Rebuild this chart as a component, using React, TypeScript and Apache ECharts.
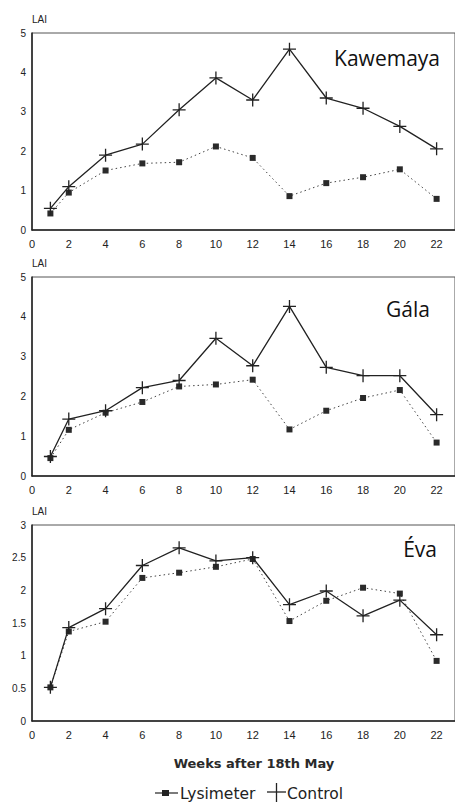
import React, { useEffect, useRef } from "react";
import * as echarts from "echarts";

const weeks = [1, 2, 4, 6, 8, 10, 12, 14, 16, 18, 20, 22];
const xTickLabels = [0, 2, 4, 6, 8, 10, 12, 14, 16, 18, 20, 22];

const panelNames = ["Kawemaya", "Gála", "Éva"];

const kawemayaControl = [0.55, 1.1, 1.9, 2.18, 3.05, 3.86, 3.3, 4.59, 3.35, 3.09, 2.63, 2.06];
const kawemayaLysimeter = [0.42, 0.95, 1.51, 1.69, 1.72, 2.12, 1.83, 0.86, 1.19, 1.34, 1.54, 0.79];

const galaControl = [0.49, 1.43, 1.64, 2.22, 2.4, 3.46, 2.77, 4.26, 2.73, 2.52, 2.52, 1.54];
const galaLysimeter = [0.45, 1.16, 1.59, 1.86, 2.25, 2.3, 2.42, 1.17, 1.64, 1.96, 2.16, 0.84];

const evaControl = [0.515, 1.43, 1.72, 2.38, 2.65, 2.45, 2.5, 1.78, 1.99, 1.61, 1.85, 1.32];
const evaLysimeter = [0.515, 1.37, 1.52, 2.19, 2.27, 2.36, 2.48, 1.53, 1.84, 2.04, 1.95, 0.92];

const yMaxes = [5, 5, 3];
const yIntervals = [1, 1, 0.5];

const controlSets = [kawemayaControl, galaControl, evaControl];
const lysimeterSets = [kawemayaLysimeter, galaLysimeter, evaLysimeter];

const INK = "#222";
const FONT = "Liberation Sans, Arial, sans-serif";
const PLUS = "path://M5,0L5,10M0,5L10,5";

export default function App() {
  const ref = useRef<HTMLDivElement>(null);

  useEffect(() => {
    document.body.style.margin = "0";
    if (!ref.current) return;
    const chart = echarts.init(ref.current, null, { renderer: "svg" });

    const gridTops = [33, 277, 525];
    const gridHeights = [197, 199, 196];

    const grids = gridTops.map((t, i) => ({
      left: 32,
      top: t,
      width: 427,
      height: gridHeights[i],
      show: true,
      borderColor: "#555",
      borderWidth: 1,
      containLabel: false,
    }));

    const xAxes = gridTops.map((_, i) => ({
      type: "value",
      gridIndex: i,
      min: 0,
      max: 23,
      interval: 1,
      splitLine: { show: false },
      axisTick: { show: false },
      axisLine: { show: true, lineStyle: { color: INK, width: 1.5 } },
      axisLabel: {
        customValues: xTickLabels,
        color: INK,
        fontSize: 11,
        fontFamily: FONT,
        margin: 8,
      },
    }));

    const yAxes = gridTops.map((_, i) => ({
      type: "value",
      gridIndex: i,
      min: 0,
      max: yMaxes[i],
      interval: yIntervals[i],
      splitLine: { show: false },
      axisTick: { show: false },
      axisLine: { show: true, lineStyle: { color: INK, width: 1.5 } },
      axisLabel: {
        color: INK,
        fontSize: 10,
        fontFamily: FONT,
        margin: 6,
      },
    }));

    const series: any[] = [];
    gridTops.forEach((_, i) => {
      series.push({
        name: "Lysimeter",
        type: "line",
        xAxisIndex: i,
        yAxisIndex: i,
        data: weeks.map((w, k) => [w, lysimeterSets[i][k]]),
        symbol: "rect",
        symbolSize: 6,
        itemStyle: { color: "#2a2a2a" },
        lineStyle: { color: "#444", width: 1, type: [1.5, 3] },
        z: 2,
      });
      series.push({
        name: "Control",
        type: "line",
        xAxisIndex: i,
        yAxisIndex: i,
        data: weeks.map((w, k) => [w, controlSets[i][k]]),
        symbol: PLUS,
        symbolSize: 13,
        itemStyle: { color: "none", borderColor: INK, borderWidth: 1.3 },
        lineStyle: { color: INK, width: 1.3 },
        z: 3,
      });
    });

    const baselines = [68, 319, 559];
    const rights = [440, 430, 437];
    const graphics: any[] = [];
    gridTops.forEach((t, i) => {
      graphics.push({
        type: "text",
        left: 32,
        top: t - 19,
        style: { text: "LAI", fill: INK, font: `10px ${FONT}` },
      });
      graphics.push({
        type: "text",
        x: rights[i],
        y: baselines[i],
        style: {
          text: panelNames[i],
          fill: "#111",
          font: `21px "Open Sans", "Noto Sans", sans-serif`,
          align: "right",
          verticalAlign: "bottom",
        },
      });
    });
    graphics.push({
      type: "text",
      x: 254,
      y: 763,
      style: {
        text: "Weeks after 18th May",
        fill: "#2a2a2a",
        font: `bold 13px "DejaVu Sans", sans-serif`,
        align: "center",
        verticalAlign: "middle",
      },
    });
    // legend
    graphics.push({ type: "line", shape: { x1: 155, y1: 793, x2: 178, y2: 793 }, style: { stroke: INK, lineWidth: 1.2 } });
    graphics.push({ type: "rect", shape: { x: 162, y: 790, width: 7, height: 6 }, style: { fill: INK } });
    graphics.push({
      type: "text",
      x: 180,
      y: 794,
      style: { text: "Lysimeter", fill: INK, font: `15.5px "DejaVu Sans", sans-serif`, verticalAlign: "middle" },
    });
    graphics.push({ type: "line", shape: { x1: 267, y1: 792, x2: 286, y2: 792 }, style: { stroke: INK, lineWidth: 1.3 } });
    graphics.push({ type: "line", shape: { x1: 276.5, y1: 783, x2: 276.5, y2: 802 }, style: { stroke: INK, lineWidth: 1.3 } });
    graphics.push({
      type: "text",
      x: 287,
      y: 794,
      style: { text: "Control", fill: INK, font: `15.5px "DejaVu Sans", sans-serif`, verticalAlign: "middle" },
    });

    chart.setOption({
      animation: false,
      backgroundColor: "#fff",
      grid: grids,
      xAxis: xAxes,
      yAxis: yAxes,
      series,
      graphic: graphics,
    });

    return () => chart.dispose();
  }, []);

  return <div ref={ref} style={{ width: 455, height: 805 }} />;
}
